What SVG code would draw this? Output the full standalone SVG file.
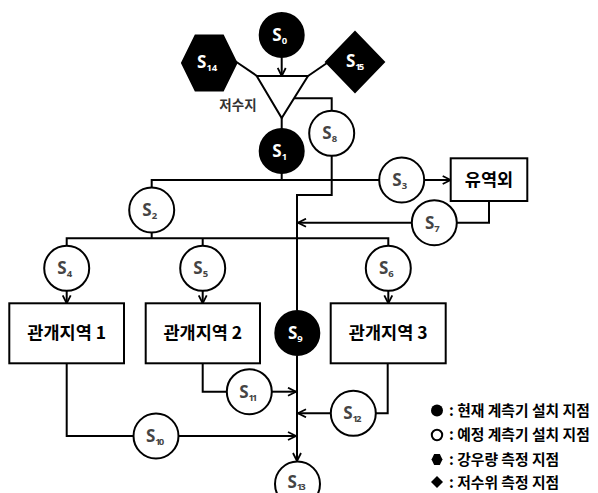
<svg xmlns="http://www.w3.org/2000/svg" width="598" height="493" viewBox="0 0 598 493">
<style>
.ln{fill:none;stroke:#000;stroke-width:2}
.ca{fill:none;stroke:#000;stroke-width:2;marker-end:url(#ah)}
.wc{fill:#fff;stroke:#000;stroke-width:2}
.bc{fill:#000;stroke:#000;stroke-width:2}
.box{fill:#fff;stroke:#000;stroke-width:2}
.s{font-family:"Open Sans","Liberation Sans",sans-serif;font-weight:bold;font-size:17px;text-anchor:middle}
.g{fill:#444}
.w{fill:#fff}
.sub{font-size:9.5px}
.kt{font-family:"Noto Sans CJK KR","Noto Sans",sans-serif;font-weight:bold;font-size:17.5px;text-anchor:middle;fill:#000}
.lg{font-family:"Noto Sans CJK KR","Noto Sans",sans-serif;font-weight:bold;font-size:14.8px;fill:#000}
</style>
<defs>
<marker id="ah" viewBox="0 0 10 10" refX="9" refY="5" markerWidth="10" markerHeight="10" markerUnits="userSpaceOnUse" orient="auto">
<path d="M1,1 L9,5 L1,9" fill="none" stroke="#000" stroke-width="1.8"/>
</marker>
</defs>
<g id="connectors">
<line class="ca" x1="281.7" y1="57.5" x2="281.7" y2="76"/>
<line class="ln" x1="235" y1="61" x2="257" y2="76"/>
<line class="ln" x1="327" y1="63" x2="308" y2="76"/>
<line class="ln" x1="281.7" y1="118" x2="281.7" y2="129"/>
<polyline class="ln" points="294,98.3 331.7,98.3 331.7,111"/>
<line class="ln" x1="281.7" y1="173" x2="281.7" y2="180"/>
<polyline class="ln" points="151.7,188 151.7,180 379.2,180"/>
<line class="ca" x1="424.2" y1="180" x2="450.7" y2="180"/>
<polyline class="ln" points="489,201 489,222.7 456.8,222.7"/>
<line class="ca" x1="411.8" y1="222.7" x2="298" y2="222.7"/>
<polyline class="ln" points="331.7,155.8 331.7,195 297,195 297,310.5"/>
<line class="ca" x1="297" y1="355.5" x2="297" y2="461"/>
<line class="ln" x1="151.7" y1="232.5" x2="151.7" y2="238.3"/>
<polyline class="ln" points="66.7,245.8 66.7,238.3 388.3,238.3 388.3,245.8"/>
<line class="ln" x1="202.7" y1="238.3" x2="202.7" y2="245.8"/>
<line class="ca" x1="66.7" y1="290.8" x2="66.7" y2="303.3"/>
<line class="ca" x1="202.7" y1="290.8" x2="202.7" y2="303.3"/>
<line class="ca" x1="388.3" y1="290.8" x2="388.3" y2="303.3"/>
<polyline class="ln" points="66.7,363.3 66.7,436 133.5,436"/>
<line class="ca" x1="178.5" y1="436" x2="296" y2="436"/>
<polyline class="ln" points="202.7,363.3 202.7,391.7 226.8,391.7"/>
<line class="ca" x1="271.8" y1="391.7" x2="296" y2="391.7"/>
<polyline class="ln" points="387.7,363.3 387.7,413.3 375.8,413.3"/>
<line class="ca" x1="330.8" y1="413.3" x2="298" y2="413.3"/>
</g>
<g id="reservoir">
<polygon class="wc" points="256.7,76 308,76 281.7,118"/>
<text x="238" y="110" style="font-family:'Noto Sans CJK KR',sans-serif;font-size:13.5px;font-weight:bold;fill:#333;text-anchor:middle">저수지</text>
</g>
<g id="S0"><circle class="bc" cx="281.7" cy="35" r="22"/><text class="s w" x="279.7" y="41">S<tspan class="sub" dy="3">0</tspan></text></g>
<g id="S14"><polygon class="bc" points="182,63 195.5,35.5 223,35.5 236.5,63 223,90.5 195.5,90.5"/><text class="s w" x="207.2" y="68">S<tspan class="sub" dy="3">14</tspan></text></g>
<g id="S15"><polygon class="bc" points="355,32 384,62 355,92 326,62"/><text class="s w" x="354" y="67">S<tspan class="sub" dy="3" letter-spacing="-2">15</tspan></text></g>
<g id="S1"><circle class="bc" cx="281.7" cy="151" r="22"/><text class="s w" x="279.7" y="157">S<tspan class="sub" dy="3">1</tspan></text></g>
<g id="S8"><circle class="wc" cx="331.7" cy="133.3" r="22.5"/><text class="s g" x="329.7" y="139.3">S<tspan class="sub" dy="3">8</tspan></text></g>
<g id="S2"><circle class="wc" cx="151.7" cy="210" r="22.5"/><text class="s g" x="149.7" y="216">S<tspan class="sub" dy="3">2</tspan></text></g>
<g id="S3"><circle class="wc" cx="401.7" cy="180" r="22.5"/><text class="s g" x="399.7" y="186">S<tspan class="sub" dy="3">3</tspan></text></g>
<g id="outside"><rect class="box" x="450.7" y="158.3" width="76.6" height="42.7"/><text class="kt" x="489" y="186">유역외</text></g>
<g id="S7"><circle class="wc" cx="434.3" cy="222.7" r="22.5"/><text class="s g" x="432.3" y="228.7">S<tspan class="sub" dy="3">7</tspan></text></g>
<g id="S4"><circle class="wc" cx="66.7" cy="268.3" r="22.5"/><text class="s g" x="64.7" y="274.3">S<tspan class="sub" dy="3">4</tspan></text></g>
<g id="S5"><circle class="wc" cx="202.7" cy="268.3" r="22.5"/><text class="s g" x="200.7" y="274.3">S<tspan class="sub" dy="3">5</tspan></text></g>
<g id="S6"><circle class="wc" cx="388.3" cy="268.3" r="22.5"/><text class="s g" x="386.3" y="274.3">S<tspan class="sub" dy="3">6</tspan></text></g>
<g id="area1"><rect class="box" x="9.3" y="303.3" width="114.7" height="60"/><text class="kt" x="66.7" y="339">관개지역 1</text></g>
<g id="area2"><rect class="box" x="145.7" y="303.3" width="114.3" height="60"/><text class="kt" x="202.8" y="339">관개지역 2</text></g>
<g id="area3"><rect class="box" x="330.7" y="303.3" width="115" height="60"/><text class="kt" x="388.2" y="339">관개지역 3</text></g>
<g id="S9"><circle class="bc" cx="297.3" cy="333" r="22"/><text class="s w" x="295.3" y="339">S<tspan class="sub" dy="3">9</tspan></text></g>
<g id="S11"><circle class="wc" cx="249.3" cy="391.7" r="22.5"/><text class="s g" x="247.3" y="397.7">S<tspan class="sub" dy="3" letter-spacing="-2">11</tspan></text></g>
<g id="S10"><circle class="wc" cx="156" cy="436" r="22.5"/><text class="s g" x="154" y="442">S<tspan class="sub" dy="3" letter-spacing="-2">10</tspan></text></g>
<g id="S12"><circle class="wc" cx="353.3" cy="413.3" r="22.5"/><text class="s g" x="351.3" y="419.3">S<tspan class="sub" dy="3" letter-spacing="-2">12</tspan></text></g>
<g id="S13"><circle class="wc" cx="297.5" cy="484" r="22.5"/><text class="s g" x="295.5" y="488">S<tspan class="sub" dy="2" letter-spacing="-2">13</tspan></text></g>
<g id="legend">
<circle cx="437" cy="410.5" r="6" fill="#000"/>
<text class="lg" x="449" y="415.5">: 현재 계측기 설치 지점</text>
<circle cx="437" cy="435" r="5.2" fill="#fff" stroke="#000" stroke-width="2"/>
<text class="lg" x="449" y="440">: 예정 계측기 설치 지점</text>
<polygon points="431.5,459.5 434.2,454 439.8,454 442.5,459.5 439.8,465 434.2,465" fill="#000"/>
<text class="lg" x="449" y="464.5">: 강우량 측정 지점</text>
<polygon points="437,476 443,482 437,488 431,482" fill="#000"/>
<text class="lg" x="449" y="487.5">: 저수위 측정 지점</text>
</g>
</svg>
